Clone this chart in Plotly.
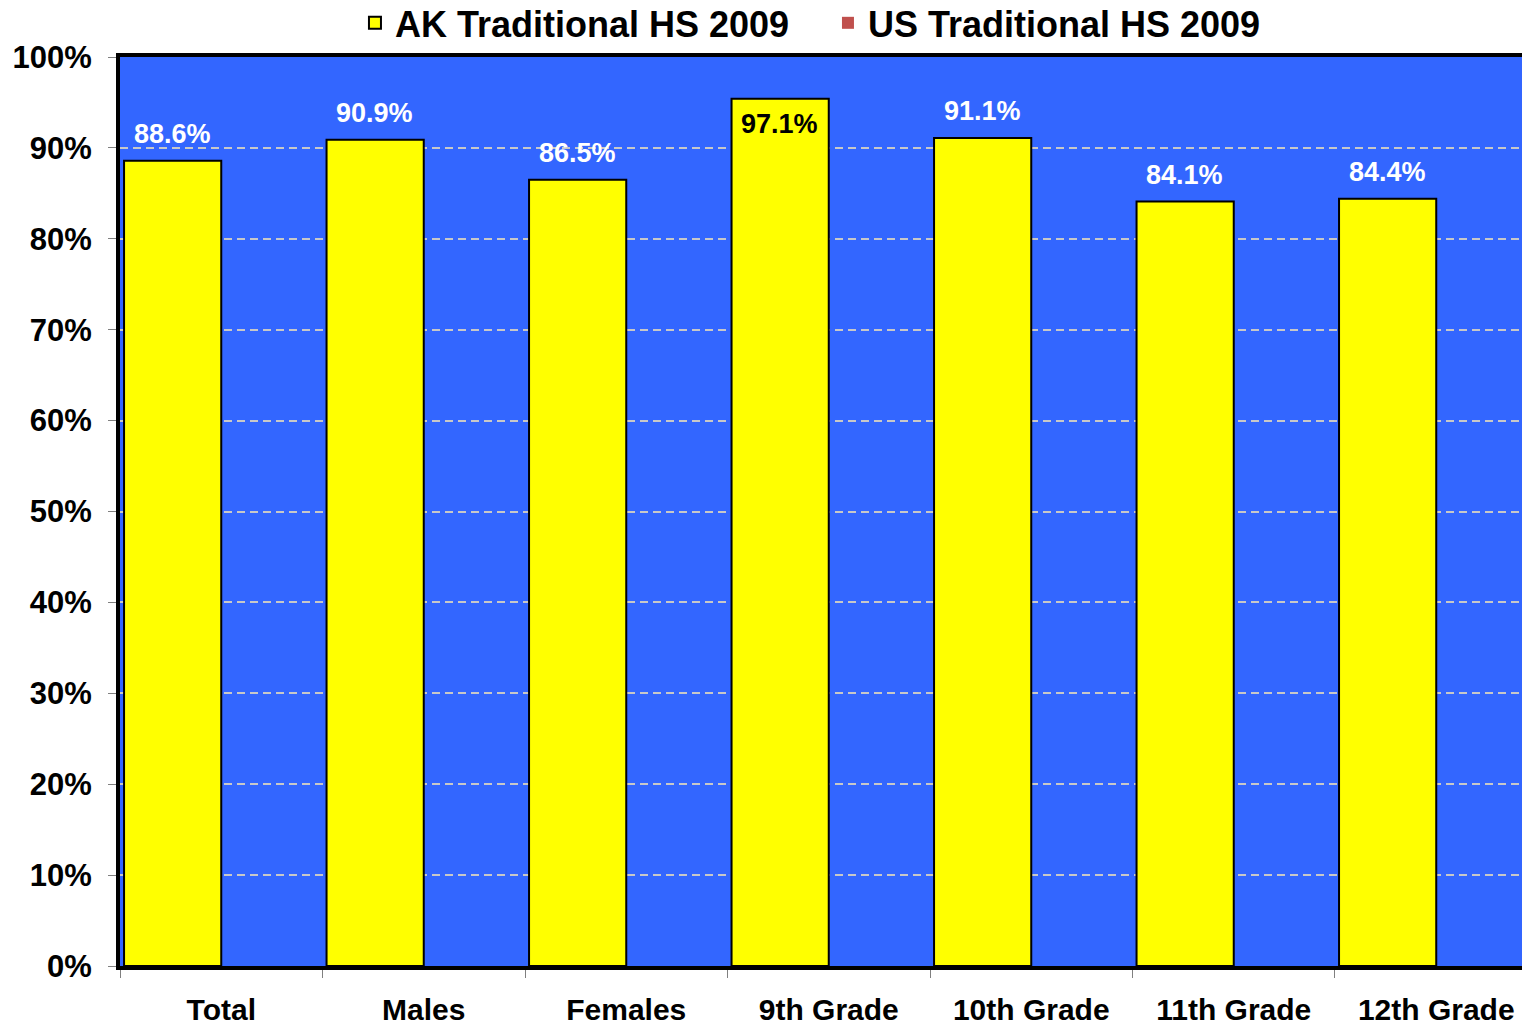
import plotly.graph_objects as go

categories = ['Total', 'Males', 'Females', '9th Grade', '10th Grade', '11th Grade', '12th Grade']
ak_values = [88.6, 90.9, 86.5, 95.4, 91.1, 84.1, 84.4]
ak_labels = ['88.6%', '90.9%', '86.5%', '97.1%', '91.1%', '84.1%', '84.4%']
us_values = [None] * len(categories)

FONT = 'Liberation Sans, Arial, sans-serif'
label_inside = [False, False, False, True, False, False, False]

fig = go.Figure()
fig.add_trace(go.Bar(x=categories, y=ak_values, name='AK Traditional HS 2009',
                     marker=dict(color='#FFFF00', line=dict(color='black', width=2))))
fig.add_trace(go.Bar(x=categories, y=us_values, name='US Traditional HS 2009',
                     marker=dict(color='#C0504D', line=dict(width=0))))

annotations = []
for cat, val, lab, inside in zip(categories, ak_values, ak_labels, label_inside):
    annotations.append(dict(
        x=cat, y=val, text='<b>%s</b>' % lab, showarrow=False,
        xshift=-49, yshift=-8 if inside else 10,
        yanchor='top' if inside else 'bottom',
        font=dict(family=FONT, size=27, color='black' if inside else 'white')))

# page body has an 8px margin, so the figure is shifted by 8px
fig.update_layout(width=1530, height=1026,
                  barmode='group', bargap=0.04,
                  plot_bgcolor='#3366FF',
                  paper_bgcolor='white',
                  font=dict(family=FONT, color='black'),
                  margin=dict(l=112, r=0, t=49, b=68, autoexpand=False),
                  annotations=annotations,
                  legend=dict(orientation='h', x=0.1657, xanchor='left',
                              y=1.0375, yanchor='middle',
                              entrywidth=428,
                              font=dict(size=36, family=FONT, weight='bold'),
                              bgcolor='rgba(0,0,0,0)'),
                  xaxis=dict(range=[-0.5, 6.5025],
                             tickson='boundaries', ticks='outside', ticklen=8,
                             tickcolor='#808080', tickwidth=1,
                             showline=True, linecolor='black', linewidth=4, mirror=True,
                             showgrid=False,
                             ticklabelstandoff=14,
                             tickfont=dict(size=30, family=FONT, weight='bold')),
                  yaxis=dict(range=[0, 100], dtick=10, ticksuffix='%',
                             ticks='outside', ticklen=8, tickcolor='#808080', tickwidth=1,
                             showline=True, linecolor='black', linewidth=4,
                             showgrid=True, gridcolor='#C8C8C8', gridwidth=2, griddash='8px,5px',
                             zeroline=False,
                             ticklabelstandoff=10,
                             tickfont=dict(size=31, family=FONT, weight='bold')))

fig.write_html("out.html")
